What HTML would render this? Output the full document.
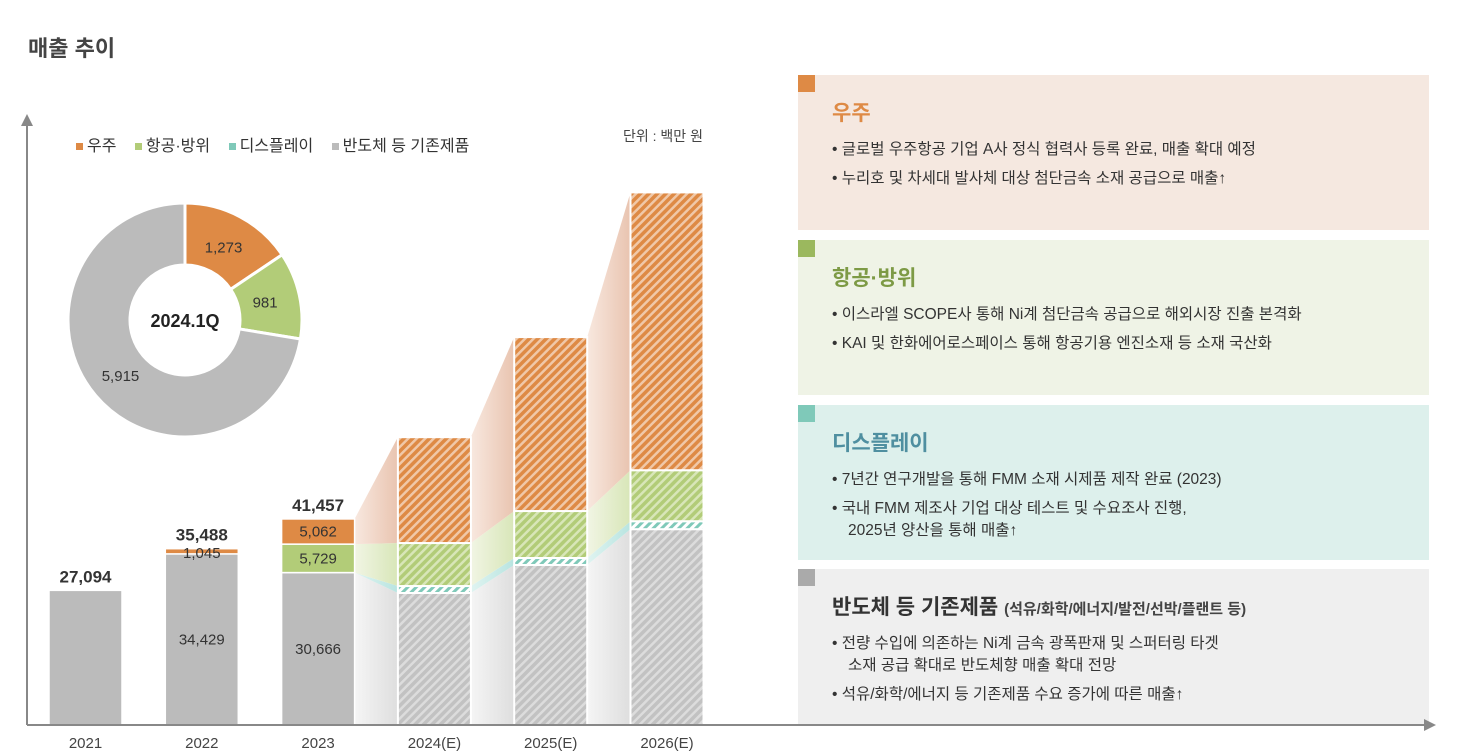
<!DOCTYPE html>
<html><head><meta charset="utf-8">
<style>
body{margin:0;width:1459px;height:753px;background:#fff;font-family:"Liberation Sans","Noto Sans CJK KR",sans-serif;overflow:hidden;position:relative;color:#333}
.panel{position:absolute;left:798px;width:631px;height:155px}
.sq{position:absolute;left:0;top:0;width:17px;height:17px}
.pt{position:absolute;left:34px;top:22px;font-size:21px;font-weight:bold}
.pt small{font-size:15px;font-weight:bold;color:#444}
.pl{position:absolute;left:34px;top:64px;font-size:15.5px;color:#333;line-height:22px}
.pl div{padding-left:16px;text-indent:-16px;margin-bottom:7px}
</style></head><body>
<div style="position:absolute;left:28px;top:31px;font-size:22px;font-weight:bold;color:#444">매출 추이</div>
<svg id="chart" width="790" height="753" style="position:absolute;left:0;top:0">
<defs>
<pattern id="hO" width="6" height="6" patternUnits="userSpaceOnUse" patternTransform="rotate(45)"><rect width="6" height="6" fill="#f0c8a8"/><rect width="3.5" height="6" fill="#de8a45"/></pattern>
<pattern id="hG" width="6" height="6" patternUnits="userSpaceOnUse" patternTransform="rotate(45)"><rect width="6" height="6" fill="#d8e6b8"/><rect width="3.5" height="6" fill="#b2cc78"/></pattern>
<pattern id="hT" width="6" height="6" patternUnits="userSpaceOnUse" patternTransform="rotate(45)"><rect width="6" height="6" fill="#fff"/><rect width="3" height="6" fill="#7fc9b9"/></pattern>
<pattern id="hS" width="6" height="6" patternUnits="userSpaceOnUse" patternTransform="rotate(45)"><rect width="6" height="6" fill="#dcdcdc"/><rect width="3.5" height="6" fill="#c2c2c2"/></pattern>
<linearGradient id="gO"><stop offset="0" stop-color="#f8e8df"/><stop offset="1" stop-color="#e9c4b0"/></linearGradient>
<linearGradient id="gG"><stop offset="0" stop-color="#f1f5e4"/><stop offset="1" stop-color="#d8e6b8"/></linearGradient>
<linearGradient id="gT"><stop offset="0" stop-color="#e0f4f1"/><stop offset="1" stop-color="#b8e4e0"/></linearGradient>
<linearGradient id="gS"><stop offset="0" stop-color="#f5f5f5"/><stop offset="1" stop-color="#dedede"/></linearGradient>
</defs>
</svg>
<div style="position:absolute;left:623px;top:126px;font-size:14px;color:#444">단위 : 백만 원</div>
<div style="position:absolute;left:76px;top:132px;font-size:16px;color:#333;white-space:nowrap">
<span><span style="display:inline-block;width:7px;height:7px;background:#de8a45;margin-right:4px;vertical-align:middle"></span>우주</span>
<span style="margin-left:14px"><span style="display:inline-block;width:7px;height:7px;background:#b2cc78;margin-right:4px;vertical-align:middle"></span>항공·방위</span>
<span style="margin-left:14px"><span style="display:inline-block;width:7px;height:7px;background:#7fc9b9;margin-right:4px;vertical-align:middle"></span>디스플레이</span>
<span style="margin-left:14px"><span style="display:inline-block;width:7px;height:7px;background:#bbb;margin-right:4px;vertical-align:middle"></span>반도체 등 기존제품</span>
</div>

<div class="panel" style="top:75px;background:#f5e8e0"><div class="sq" style="background:#de8a45"></div>
<div class="pt" style="color:#de8a45">우주</div>
<div class="pl"><div>• 글로벌 우주항공 기업 A사 정식 협력사 등록 완료, 매출 확대 예정</div><div>• 누리호 및 차세대 발사체 대상 첨단금속 소재 공급으로 매출↑</div></div></div>
<div class="panel" style="top:240px;background:#eff3e6"><div class="sq" style="background:#9bb85e"></div>
<div class="pt" style="color:#7d9a45">항공·방위</div>
<div class="pl"><div>• 이스라엘 SCOPE사 통해 Ni계 첨단금속 공급으로 해외시장 진출 본격화</div><div>• KAI 및 한화에어로스페이스 통해 항공기용 엔진소재 등 소재 국산화</div></div></div>
<div class="panel" style="top:405px;background:#ddf0ec"><div class="sq" style="background:#7fc9b9"></div>
<div class="pt" style="color:#4f8fa0">디스플레이</div>
<div class="pl"><div>• 7년간 연구개발을 통해 FMM 소재 시제품 제작 완료 (2023)</div><div>• 국내 FMM 제조사 기업 대상 테스트 및 수요조사 진행,<br>2025년 양산을 통해 매출↑</div></div></div>
<div class="panel" style="top:569px;background:#efefef"><div class="sq" style="background:#aaa"></div>
<div class="pt" style="color:#333">반도체 등 기존제품 <small>(석유/화학/에너지/발전/선박/플랜트 등)</small></div>
<div class="pl"><div>• 전량 수입에 의존하는 Ni계 금속 광폭판재 및 스퍼터링 타겟<br>소재 공급 확대로 반도체향 매출 확대 전망</div><div>• 석유/화학/에너지 등 기존제품 수요 증가에 따른 매출↑</div></div></div>
<svg width="1459" height="753" style="position:absolute;left:0;top:0;pointer-events:none">
<line x1="27" y1="725" x2="1424" y2="725" stroke="#888" stroke-width="2"/><polygon points="1424,719 1436,725 1424,731" fill="#888"/>
</svg>
<script>
const years=["2021","2022","2023","2024(E)","2025(E)","2026(E)"];
const existing=[27094,34429,30666,26560,32200,39400];
const display=[0,0,0,1400,1400,1600];
const aero=[0,0,5729,8650,9450,10260];
const space=[0,1045,5062,21300,35000,55900];
const totals=["27,094","35,488","41,457","","",""];
const pieValues=[1273,981,5915];
const pieLabels=["1,273","981","5,915"];
const NS="http://www.w3.org/2000/svg";
const svg=document.getElementById('chart');
const base=725,k=0.00497;
const y=v=>base-v*k;
const xL=i=>49+i*116.3, bw=73;
function mk(t,a,p){const e=document.createElementNS(NS,t);for(const n in a)e.setAttribute(n,a[n]);(p||svg).appendChild(e);return e;}
mk('line',{x1:27,y1:725,x2:27,y2:124,stroke:'#888','stroke-width':2});
mk('polygon',{points:'21,126 27,114 33,126',fill:'#888'});
const series=[existing,display,aero,space];
const fills=['#bbb','#7fc9b9','#b2cc78','#de8a45'];
const hat=['url(#hS)','url(#hT)','url(#hG)','url(#hO)'];
const grads=['url(#gS)','url(#gT)','url(#gG)','url(#gO)'];
const names=['existing','display','aerospace','space'];
function stacks(i){let c=0;return series.map(s=>{const b=c;c+=s[i];return [b,c];});}
for(let i=2;i<years.length-1;i++){
 const a=stacks(i),b=stacks(i+1);
 for(let j=0;j<4;j++){
  const r=mk('polygon',{points:`${xL(i)+bw},${y(a[j][0])} ${xL(i+1)},${y(b[j][0])} ${xL(i+1)},${y(b[j][1])} ${xL(i)+bw},${y(a[j][1])}`,fill:grads[j]});
  
  
 }
}
for(let i=0;i<years.length;i++){
 const st=stacks(i);
 for(let j=0;j<4;j++){
  if(series[j][i]<=0)continue;
  const r=mk('rect',{x:xL(i),y:y(st[j][1]),width:bw,height:y(st[j][0])-y(st[j][1]),fill:i>=3?hat[j]:fills[j],stroke:'#fff','stroke-width':i>=3?2:1.5});
  
  
 }
 const t=mk('text',{x:xL(i)+bw/2,y:748,'text-anchor':'middle','font-size':15,fill:'#444'});t.textContent=years[i];
 
 
 if(totals[i]){const tt=mk('text',{x:xL(i)+bw/2,y:y(st[3][1])-8,'text-anchor':'middle','font-size':17,'font-weight':'bold',fill:'#333'});tt.textContent=totals[i];
  
  }
 if(i<3){
  const fmt=v=>v.toLocaleString('en-US');
  if(i>0){const g=mk('text',{x:xL(i)+bw/2,y:(y(st[0][0])+y(st[0][1]))/2+5,'text-anchor':'middle','font-size':15,fill:'#333'});
  g.textContent=fmt(existing[i]);
  
  }
  if(aero[i]){const l=mk('text',{x:xL(i)+bw/2,y:(y(st[2][0])+y(st[2][1]))/2+5,'text-anchor':'middle','font-size':15,fill:'#333'});l.textContent=fmt(aero[i]);
   
   }
  if(space[i]){const big=space[i]*k>14;const l=mk('text',{x:xL(i)+bw/2,y:big?(y(st[3][0])+y(st[3][1]))/2+5:y(st[3][0])+4,'text-anchor':'middle','font-size':15,fill:'#333'});l.textContent=fmt(space[i]);
   
   }
 }
}
const cx=185,cy=320,R=117,r0=55,tot=pieValues.reduce((a,b)=>a+b,0);
const pc=['#de8a45','#b2cc78','#bbb'],pn=['space','aerospace','existing'];
let ang=-Math.PI/2;
pieValues.forEach((v,i)=>{
 const a2=ang+v/tot*2*Math.PI,lg=(a2-ang)>Math.PI?1:0;
 const P=(rr,a)=>`${cx+rr*Math.cos(a)},${cy+rr*Math.sin(a)}`;
 const p=mk('path',{d:`M${P(R,ang)} A${R},${R} 0 ${lg} 1 ${P(R,a2)} L${P(r0,a2)} A${r0},${r0} 0 ${lg} 0 ${P(r0,ang)}Z`,fill:pc[i],stroke:'#fff','stroke-width':3});
 
 
 const m=(ang+a2)/2,lr=82;
 const t=mk('text',{x:cx+lr*Math.cos(m)+(i==2?-2:0),y:cy+lr*Math.sin(m)+(i==2?8:5),'text-anchor':'middle','font-size':15,fill:'#333'});t.textContent=pieLabels[i];
 
 
 ang=a2;
});
const c=mk('text',{x:cx,y:cy+7,'text-anchor':'middle','font-size':18,'font-weight':'bold',fill:'#222'});c.textContent='2024.1Q';


</script>
</body></html>
